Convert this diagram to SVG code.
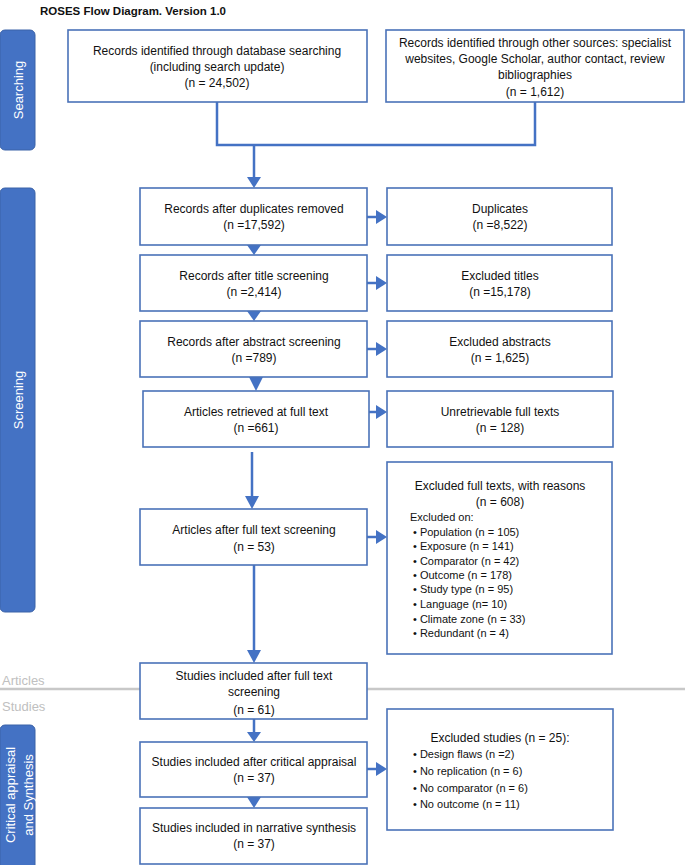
<svg xmlns="http://www.w3.org/2000/svg" width="685" height="865" viewBox="0 0 685 865">
<style>
.box{fill:#fff;stroke:#4a72b8;stroke-width:1.6}
.side{fill:#4472c4;stroke:#3a62a8;stroke-width:1}
.t{font-family:"Liberation Sans",Arial,sans-serif;font-size:12px;fill:#111;text-anchor:middle}
.l{font-family:"Liberation Sans",Arial,sans-serif;font-size:11px;fill:#111}
.st{font-family:"Liberation Sans",Arial,sans-serif;font-size:13px;fill:#fff;text-anchor:middle}
.g{font-family:"Liberation Sans",Arial,sans-serif;font-size:13px;fill:#c0c0c0}
.c{stroke:#4472c4;stroke-width:2.5;fill:none}
.h{fill:#4472c4}
</style>
<rect width="685" height="865" fill="#fff"/>
<text x="40" y="15" font-family="Liberation Sans,Arial,sans-serif" font-size="11.5" font-weight="bold" fill="#111">ROSES Flow Diagram. Version 1.0</text>

<line x1="0" y1="689" x2="685" y2="689" stroke="#c8c8c8" stroke-width="2.5"/>
<text class="g" x="2" y="685">Articles</text>
<text class="g" x="2" y="711">Studies</text>

<g id="side-searching"><rect class="side" x="0" y="30" width="35" height="120" rx="5"/><text class="st" transform="translate(23,90) rotate(-90)">Searching</text></g>
<g id="side-screening"><rect class="side" x="0" y="188" width="35" height="424" rx="5"/><text class="st" transform="translate(23,400) rotate(-90)">Screening</text></g>
<g id="side-critical"><rect class="side" x="0" y="725" width="35" height="145" rx="5"/><text class="st" transform="translate(15,795) rotate(-90)">Critical appraisal</text><text class="st" transform="translate(33,795) rotate(-90)">and Synthesis</text></g>

<g id="connectors">
<polyline class="c" points="217,102 217,145 535,145 535,102"/>
<line class="c" x1="254" y1="145" x2="254" y2="178"/><polygon class="h" points="247,177 261,177 254,188"/>
<polygon class="h" points="247,245 261,245 254,255"/>
<polygon class="h" points="247,311 261,311 254,321"/>
<polygon class="h" points="249,377 263,377 256,391"/>
<line class="c" x1="252" y1="452" x2="252" y2="497"/><polygon class="h" points="245,496 259,496 252,509"/>
<line class="c" x1="254" y1="565" x2="254" y2="651"/><polygon class="h" points="247,650 261,650 254,663"/>
<line class="c" x1="254" y1="719" x2="254" y2="733"/><polygon class="h" points="247,732 261,732 254,742"/>
<polygon class="h" points="247,797 261,797 254,808"/>
<line class="c" x1="367" y1="217" x2="377" y2="217"/><polygon class="h" points="376,210 387,217 376,224"/>
<line class="c" x1="367" y1="283" x2="377" y2="283"/><polygon class="h" points="376,276 387,283 376,290"/>
<line class="c" x1="367" y1="349" x2="377" y2="349"/><polygon class="h" points="376,342 387,349 376,356"/>
<line class="c" x1="369" y1="412" x2="377" y2="412"/><polygon class="h" points="376,405 387,412 376,419"/>
<line class="c" x1="367" y1="537" x2="377" y2="537"/><polygon class="h" points="376,530 387,537 376,544"/>
<line class="c" x1="367" y1="769" x2="377" y2="769"/><polygon class="h" points="376,762 387,769 376,776"/>
</g>

<g id="n-db"><rect class="box" x="68" y="30" width="299" height="72"/>
<text class="t" x="217" y="55">Records identified through database searching</text>
<text class="t" x="217" y="71">(including search update)</text>
<text class="t" x="217" y="87">(n = 24,502)</text></g>

<g id="n-other"><rect class="box" x="386" y="30" width="298" height="72"/>
<text class="t" x="535" y="47">Records identified through other sources: specialist</text>
<text class="t" x="535" y="63">websites, Google Scholar, author contact, review</text>
<text class="t" x="535" y="79">bibliographies</text>
<text class="t" x="535" y="96">(n = 1,612)</text></g>

<g id="n-dup"><rect class="box" x="140" y="188" width="227" height="57"/>
<text class="t" x="254" y="213">Records after duplicates removed</text>
<text class="t" x="254" y="229">(n =17,592)</text></g>
<g id="n-dupx"><rect class="box" x="387" y="188" width="225" height="57"/>
<text class="t" x="500" y="213">Duplicates</text>
<text class="t" x="500" y="229">(n =8,522)</text></g>

<g id="n-title"><rect class="box" x="140" y="255" width="227" height="56"/>
<text class="t" x="254" y="280">Records after title screening</text>
<text class="t" x="254" y="296">(n =2,414)</text></g>
<g id="n-titlex"><rect class="box" x="387" y="255" width="225" height="56"/>
<text class="t" x="500" y="280">Excluded titles</text>
<text class="t" x="500" y="296">(n =15,178)</text></g>

<g id="n-abs"><rect class="box" x="140" y="321" width="227" height="56"/>
<text class="t" x="254" y="346">Records after abstract screening</text>
<text class="t" x="254" y="362">(n =789)</text></g>
<g id="n-absx"><rect class="box" x="387" y="321" width="225" height="56"/>
<text class="t" x="500" y="346">Excluded abstracts</text>
<text class="t" x="500" y="362">(n = 1,625)</text></g>

<g id="n-ret"><rect class="box" x="143" y="391" width="226" height="56"/>
<text class="t" x="256" y="416">Articles retrieved at full text</text>
<text class="t" x="256" y="432">(n =661)</text></g>
<g id="n-retx"><rect class="box" x="387" y="391" width="226" height="56"/>
<text class="t" x="500" y="416">Unretrievable full texts</text>
<text class="t" x="500" y="432">(n = 128)</text></g>

<g id="n-full"><rect class="box" x="140" y="509" width="227" height="56"/>
<text class="t" x="254" y="534">Articles after full text screening</text>
<text class="t" x="254" y="551">(n = 53)</text></g>
<g id="n-fullx"><rect class="box" x="387" y="462" width="225" height="192"/>
<text class="t" x="500" y="490">Excluded full texts, with reasons</text>
<text class="t" x="500" y="506">(n = 608)</text>
<text class="l" x="410" y="521">Excluded on:</text>
<text class="l" x="413" y="536">• Population (n = 105)</text>
<text class="l" x="413" y="550">• Exposure (n = 141)</text>
<text class="l" x="413" y="565">• Comparator (n = 42)</text>
<text class="l" x="413" y="579">• Outcome (n = 178)</text>
<text class="l" x="413" y="593">• Study type (n = 95)</text>
<text class="l" x="413" y="608">• Language (n= 10)</text>
<text class="l" x="413" y="623">• Climate zone (n = 33)</text>
<text class="l" x="413" y="637">• Redundant (n = 4)</text></g>

<g id="n-studies"><rect class="box" x="140" y="663" width="227" height="56"/>
<text class="t" x="254" y="680">Studies included after full text</text>
<text class="t" x="254" y="696">screening</text>
<text class="t" x="254" y="714">(n = 61)</text></g>

<g id="n-crit"><rect class="box" x="140" y="742" width="227" height="55"/>
<text class="t" x="254" y="766">Studies included after critical appraisal</text>
<text class="t" x="254" y="782">(n = 37)</text></g>
<g id="n-critx"><rect class="box" x="387" y="709" width="226" height="121"/>
<text class="t" x="500" y="742">Excluded studies (n = 25):</text>
<text class="l" x="413" y="758">• Design flaws (n =2)</text>
<text class="l" x="413" y="775">• No replication (n = 6)</text>
<text class="l" x="413" y="792">• No comparator (n = 6)</text>
<text class="l" x="413" y="808">• No outcome (n = 11)</text></g>

<g id="n-narr"><rect class="box" x="140" y="808" width="227" height="56"/>
<text class="t" x="254" y="832">Studies included in narrative synthesis</text>
<text class="t" x="254" y="848">(n = 37)</text></g>
</svg>
